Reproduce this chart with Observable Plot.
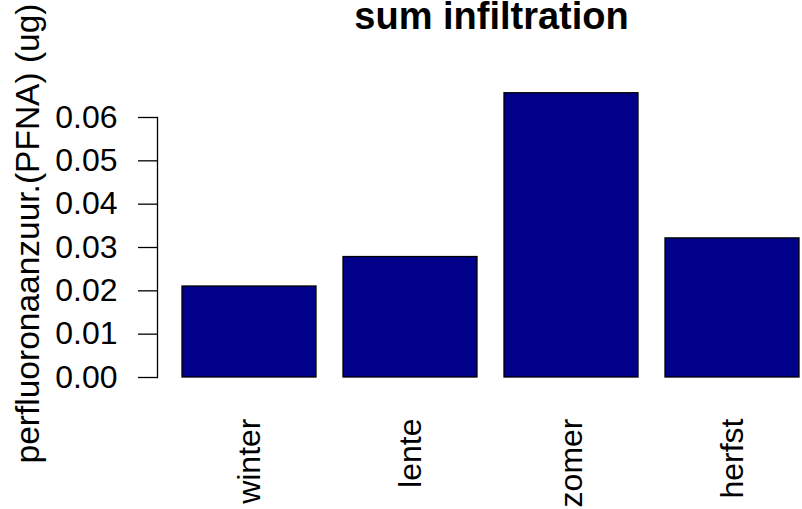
<!DOCTYPE html>
<html>
<head>
<meta charset="utf-8">
<script src="https://cdn.jsdelivr.net/npm/d3@7"></script>
<script src="https://cdn.jsdelivr.net/npm/@observablehq/plot@0.6"></script>
<style>
  html, body { margin: 0; padding: 0; background: #fff; }
  svg { display: block; }
</style>
</head>
<body>
<div id="chart"></div>
<script>
const seasons = ["winter", "lente", "zomer", "herfst"];
const values = [0.0210, 0.0278, 0.0656, 0.0321];
const yTicks = [0, 0.01, 0.02, 0.03, 0.04, 0.05, 0.06];
const title = "sum infiltration";
const yLabel = "perfluoronaanzuur.(PFNA) (ug)";

const data = seasons.map((s, i) => ({season: s, value: values[i]}));
const font = "'Liberation Sans', Arial, sans-serif";

const chart = Plot.plot({
  width: 802,
  height: 509,
  marginLeft: 157,
  marginRight: 0,
  marginTop: 117,
  marginBottom: 132,
  style: {fontFamily: font, fontSize: "32px", color: "black", background: "white", overflow: "visible"},
  x: {domain: seasons, range: [181, 801], paddingInner: 1/6, paddingOuter: 0, axis: null},
  y: {domain: [0, 0.06], axis: null},
  marks: [
    Plot.barY(data, {x: "season", y: "value", fill: "#00008B", stroke: "black", strokeWidth: 1.3, inset: 0}),
    Plot.frame({anchor: "left", stroke: "black", strokeWidth: 1.3}),
    Plot.axisY({ticks: yTicks, tickFormat: d3.format(".2f"), tickSize: 19, tickPadding: 21, fontSize: 32, label: null, stroke: "black", strokeWidth: 1.3}),
    Plot.text(seasons, {x: d => d, frameAnchor: "bottom", dx: 10, dy: 41, rotate: -90, textAnchor: "end", fontSize: 32, fill: "black"}),
    Plot.text([yLabel], {frameAnchor: "left", dx: -129, dy: -14, rotate: -90, textAnchor: "middle", fontSize: 33.5, fill: "black"}),
    Plot.text([title], {frameAnchor: "top", dx: 11.5, dy: -89, lineAnchor: "bottom", fontSize: 38, fontWeight: "bold", fill: "black"})
  ]
});
document.getElementById("chart").appendChild(chart);
</script>
</body>
</html>
